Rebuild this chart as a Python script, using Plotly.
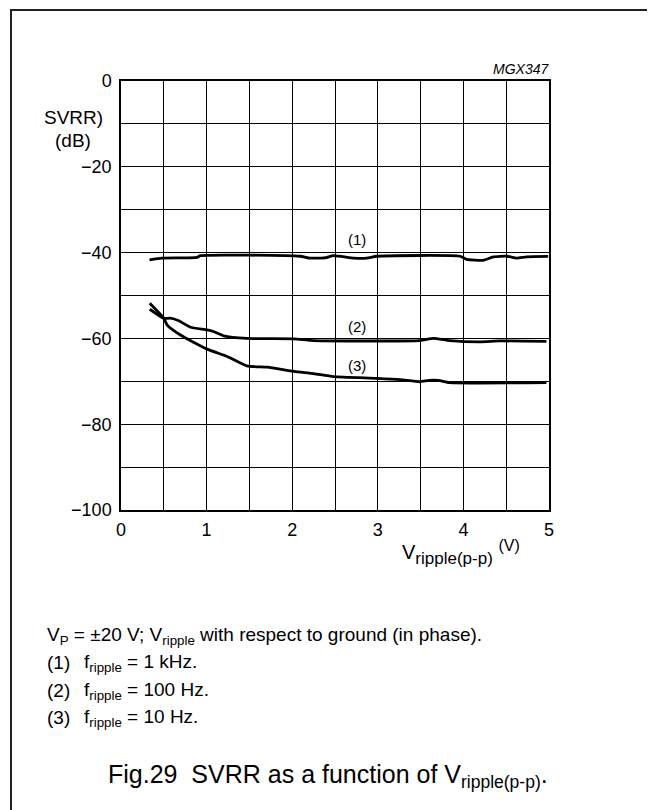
import plotly.graph_objects as go

# ---- data ----
v1 = [0.333, 0.48, 0.889, 0.928, 2.094, 2.21, 2.40, 2.48, 2.72, 2.87, 2.99, 3.96, 4.04, 4.23, 4.35, 4.51, 4.62, 4.74, 4.99]
svrr1 = [-41.7, -41.3, -41.1, -40.7, -40.85, -41.3, -41.15, -40.7, -41.3, -41.3, -40.85, -40.85, -41.6, -41.8, -41.0, -40.85, -41.3, -41.0, -40.9]

v2 = [0.336, 0.50, 0.578, 0.675, 0.811, 1.006, 1.08, 1.20, 1.47, 2.02, 2.25, 3.49, 3.65, 3.84, 4.19, 4.43, 4.97]
svrr2 = [-53.2, -55.3, -55.3, -55.9, -57.4, -58.0, -58.4, -59.4, -60.0, -60.1, -60.5, -60.5, -60.0, -60.5, -60.8, -60.6, -60.7]

v3 = [0.336, 0.50, 0.54, 0.694, 1.006, 1.24, 1.47, 1.71, 2.02, 2.25, 2.48, 2.99, 3.26, 3.49, 3.60, 3.71, 3.84, 4.97]
svrr3 = [-51.8, -55.3, -56.9, -59.2, -62.5, -64.2, -66.4, -66.7, -67.7, -68.2, -68.9, -69.3, -69.6, -70.1, -69.8, -69.8, -70.3, -70.3]

x_ticks = [0, 1, 2, 3, 4, 5]
x_ticktext = ["0", "1", "2", "3", "4", "5"]
y_ticks = [0, -20, -40, -60, -80, -100]
y_ticktext = ["0", "\u221220", "\u221240", "\u221260", "\u221280", "\u2212100"]

curve_labels = ["(1)", "(2)", "(3)"]
label_x = [2.76, 2.76, 2.76]
label_y = [-37.0, -57.3, -66.4]

FONT = "Arial, Liberation Sans, Helvetica, sans-serif"

fig = go.Figure()
for xs, ys in [(v1, svrr1), (v2, svrr2), (v3, svrr3)]:
    fig.add_trace(go.Scatter(x=xs, y=ys, mode="lines",
                             line=dict(color="black", width=2.8, shape="spline", smoothing=0.5),
                             showlegend=False, hoverinfo="skip"))

# target geometry in page pixels; the page adds an 8 px body margin
OFF = 8
L, R, T, B = 121 - OFF, 549 - OFF, 81 - OFF, 510 - OFF
W, H = 655, 810
pw, ph = R - L, B - T

def px(xp):
    return (xp - OFF - L) / pw

def py(yp):
    return (B - (yp - OFF)) / ph

fig.update_layout(
    width=W, height=H, autosize=False,
    margin=dict(l=L, r=W - R, t=T, b=H - B, pad=0),
    paper_bgcolor="white", plot_bgcolor="white",
    font=dict(family=FONT, color="black", size=16),
    xaxis=dict(range=[0, 5], tickvals=x_ticks, ticktext=x_ticktext,
               showgrid=True, gridcolor="black", gridwidth=1,
               minor=dict(dtick=0.5, tick0=0, showgrid=True, gridcolor="black", gridwidth=1),
               showline=True, linecolor="black", linewidth=1.5, mirror=True,
               ticks="", zeroline=False, tickfont=dict(size=18), ticklabelstandoff=3),
    yaxis=dict(range=[-100, 0], tickvals=y_ticks, ticktext=y_ticktext,
               showgrid=True, gridcolor="black", gridwidth=1,
               minor=dict(dtick=10, tick0=0, showgrid=True, gridcolor="black", gridwidth=1),
               showline=True, linecolor="black", linewidth=1.5, mirror=True,
               ticks="", zeroline=False, tickfont=dict(size=18), ticklabelstandoff=4),
)

# frame around the figure (bottom edge falls outside the picture)
fig.add_shape(type="rect", xref="paper", yref="paper",
              x0=px(11), x1=px(652), y0=py(840), y1=py(10),
              line=dict(color="#222222", width=2), fillcolor="rgba(0,0,0,0)", layer="below")

ann = []
for t, x, y in zip(curve_labels, label_x, label_y):
    ann.append(dict(x=x, y=y, xref="x", yref="y", text=t, showarrow=False,
                    xanchor="center", yanchor="middle", font=dict(size=15)))

ann += [
    dict(x=px(73), y=py(117), text="SVRR)", xanchor="center", font=dict(size=19)),
    dict(x=px(73), y=py(140), text="(dB)", xanchor="center", font=dict(size=19)),
    dict(x=px(551), y=py(69), text="<i>MGX347</i>", xanchor="right", font=dict(size=14)),
    dict(x=px(400), y=py(552), xanchor="left",
         text="V<sub><span style='font-size:17px'>ripple(p-p)</span></sub> <sup><span style='font-size:16px'>(V)</span></sup>",
         font=dict(size=20)),
    dict(x=px(45), y=py(636), xanchor="left",
         text="V<sub>P</sub> = \u00b120 V; V<sub>ripple</sub> with respect to ground (in phase).", font=dict(size=19)),
    dict(x=px(45), y=py(662), xanchor="left", text="(1)", font=dict(size=19)),
    dict(x=px(82), y=py(663), xanchor="left", text="f<sub>ripple</sub> = 1 kHz.", font=dict(size=19)),
    dict(x=px(45), y=py(690), xanchor="left", text="(2)", font=dict(size=19)),
    dict(x=px(82), y=py(691), xanchor="left", text="f<sub>ripple</sub> = 100 Hz.", font=dict(size=19)),
    dict(x=px(45), y=py(717), xanchor="left", text="(3)", font=dict(size=19)),
    dict(x=px(82), y=py(718), xanchor="left", text="f<sub>ripple</sub> = 10 Hz.", font=dict(size=19)),
    dict(x=px(106), y=py(776), xanchor="left",
         text="Fig.29  SVRR as a function of V<sub>ripple(p-p)</sub>.", font=dict(size=25)),
]
for a in ann[len(curve_labels):]:
    a.setdefault("xref", "paper")
    a.setdefault("yref", "paper")
    a["yanchor"] = "middle"
    a["showarrow"] = False
fig.update_layout(annotations=ann)

fig.write_html("out.html")
